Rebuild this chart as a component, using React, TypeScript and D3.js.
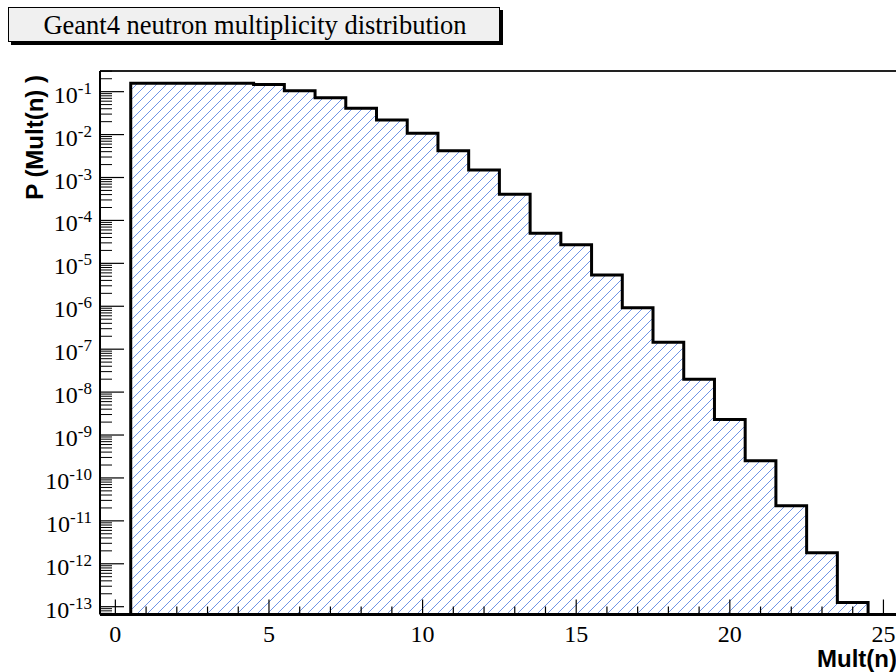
import React from "react";
import * as d3 from "d3";

const binCenters = [1, 2, 3, 4, 5, 6, 7, 8, 9, 10, 11, 12, 13, 14, 15, 16, 17, 18, 19, 20, 21, 22, 23, 24];
const binValues = [
  0.157, 0.157, 0.157, 0.157, 0.146, 0.105, 0.0724, 0.041, 0.0219, 0.0107, 0.00422, 0.0015,
  4.07e-4, 5.0e-5, 2.7e-5, 5.33e-6, 9.2e-7, 1.46e-7, 1.98e-8, 2.31e-9, 2.5e-10, 2.24e-11, 1.8e-12, 1.25e-13,
];
const xMajorTicks = [0, 5, 10, 15, 20, 25];
const yExponents = [-1, -2, -3, -4, -5, -6, -7, -8, -9, -10, -11, -12, -13];
const titleText = "Geant4 neutron multiplicity distribution";
const yTitle = "P (Mult(n) )";
const xTitle = "Mult(n)";

const W = 896;
const H = 672;
const frameLeft = 100;
const frameRight = 898.8;
const frameTop = 71;
const frameBottom = 614.5;

export default function App() {
  const x = d3.scaleLinear().domain([-0.5, 25.5]).range([frameLeft, frameRight]);
  const y = d3.scaleLog().domain([6.58e-14, 0.303]).range([frameBottom, frameTop]);

  const pts: [number, number][] = [];
  pts.push([x(binCenters[0] - 0.5), frameBottom]);
  binCenters.forEach((c, i) => {
    pts.push([x(c - 0.5), y(binValues[i])]);
    pts.push([x(c + 0.5), y(binValues[i])]);
  });
  pts.push([x(binCenters[binCenters.length - 1] + 0.5), frameBottom]);
  const line = d3.line();
  const histPath = line(pts) || "";

  const minorY: number[] = [];
  for (let e = -14; e <= 0; e++) {
    for (let k = 2; k <= 9; k++) {
      const v = k * Math.pow(10, e);
      if (v > y.domain()[0] && v < y.domain()[1]) minorY.push(v);
    }
  }
  const minorX: number[] = [];
  for (let v = 0; v <= 25; v++) if (v % 5 !== 0) minorX.push(v);

  const hatchStarts = d3.range(frameLeft - (frameBottom - frameTop), frameRight, 10);
  const hh = frameBottom - frameTop;

  const serif = "'Liberation Serif', 'Times New Roman', serif";
  const sans = "'Liberation Sans', Arial, sans-serif";
  const hatchColor = "#6f93e6";

  return (
    <svg width={W} height={H} style={{ position: "absolute", left: 0, top: 0 }}>
      <defs>
        <clipPath id="histClip">
          <path d={histPath + "Z"} />
        </clipPath>
      </defs>
      <rect x={0} y={0} width={W} height={H} fill="#ffffff" />

      {/* title box */}
      <rect x={11} y={10} width={492} height={35} fill="#000" />
      <rect x={8.5} y={7.5} width={491} height={34} fill="#f0f0f0" stroke="#000" strokeWidth={1} />
      <text x={255} y={34} textAnchor="middle" fontFamily={serif} fontSize={26.5} fill="#000">
        {titleText}
      </text>

      {/* histogram hatch */}
      <g clipPath="url(#histClip)">
        {hatchStarts.map((s, i) => (
          <line key={"h" + i} x1={s} y1={frameBottom} x2={s + hh} y2={frameTop} stroke={hatchColor} strokeWidth={1} />
        ))}
      </g>
      <path d={histPath} fill="none" stroke="#000" strokeWidth={3} strokeLinejoin="miter" />

      {/* frame top */}
      <line x1={frameLeft} y1={frameTop} x2={W} y2={frameTop} stroke="#222" strokeWidth={2} />

      {/* y axis */}
      <line x1={frameLeft} y1={frameTop} x2={frameLeft} y2={frameBottom} stroke="#000" strokeWidth={2} />
      {minorY.map((v, i) => (
        <line key={"my" + i} x1={frameLeft} x2={frameLeft + 12} y1={y(v)} y2={y(v)} stroke="#000" strokeWidth={1} />
      ))}
      {yExponents.map((e) => (
        <line key={"Y" + e} x1={frameLeft} x2={frameLeft + 24} y1={y(Math.pow(10, e))} y2={y(Math.pow(10, e))} stroke="#000" strokeWidth={1.2} />
      ))}
      {yExponents.map((e) => (
        <text key={"yl" + e} x={92} y={y(Math.pow(10, e)) + 11} textAnchor="end" fontFamily={serif} fontSize={24} fill="#000">
          <tspan>10</tspan>
          <tspan dy={-9} fontSize={17}>{String(e)}</tspan>
        </text>
      ))}

      {/* x axis */}
      <line x1={frameLeft} y1={frameBottom} x2={W} y2={frameBottom} stroke="#000" strokeWidth={3} />
      {minorX.map((v) => (
        <line key={"mx" + v} x1={x(v)} x2={x(v)} y1={frameBottom} y2={frameBottom - 8} stroke="#000" strokeWidth={1.2} />
      ))}
      {xMajorTicks.map((v) => (
        <line key={"X" + v} x1={x(v)} x2={x(v)} y1={frameBottom} y2={frameBottom - 15} stroke="#000" strokeWidth={1.2} />
      ))}
      {xMajorTicks.map((v) => (
        <text key={"xl" + v} x={x(v)} y={642} textAnchor="middle" fontFamily={serif} fontSize={24} fill="#000">
          {String(v)}
        </text>
      ))}

      {/* axis titles */}
      <text
        transform={`translate(43, ${frameTop + 4}) rotate(-90)`}
        textAnchor="end"
        fontFamily={sans}
        fontWeight="bold"
        fontSize={24}
        fill="#000"
      >
        {yTitle}
      </text>
      <text x={897} y={667} textAnchor="end" fontFamily={sans} fontWeight="bold" fontSize={24} fill="#000">
        {xTitle}
      </text>
    </svg>
  );
}
